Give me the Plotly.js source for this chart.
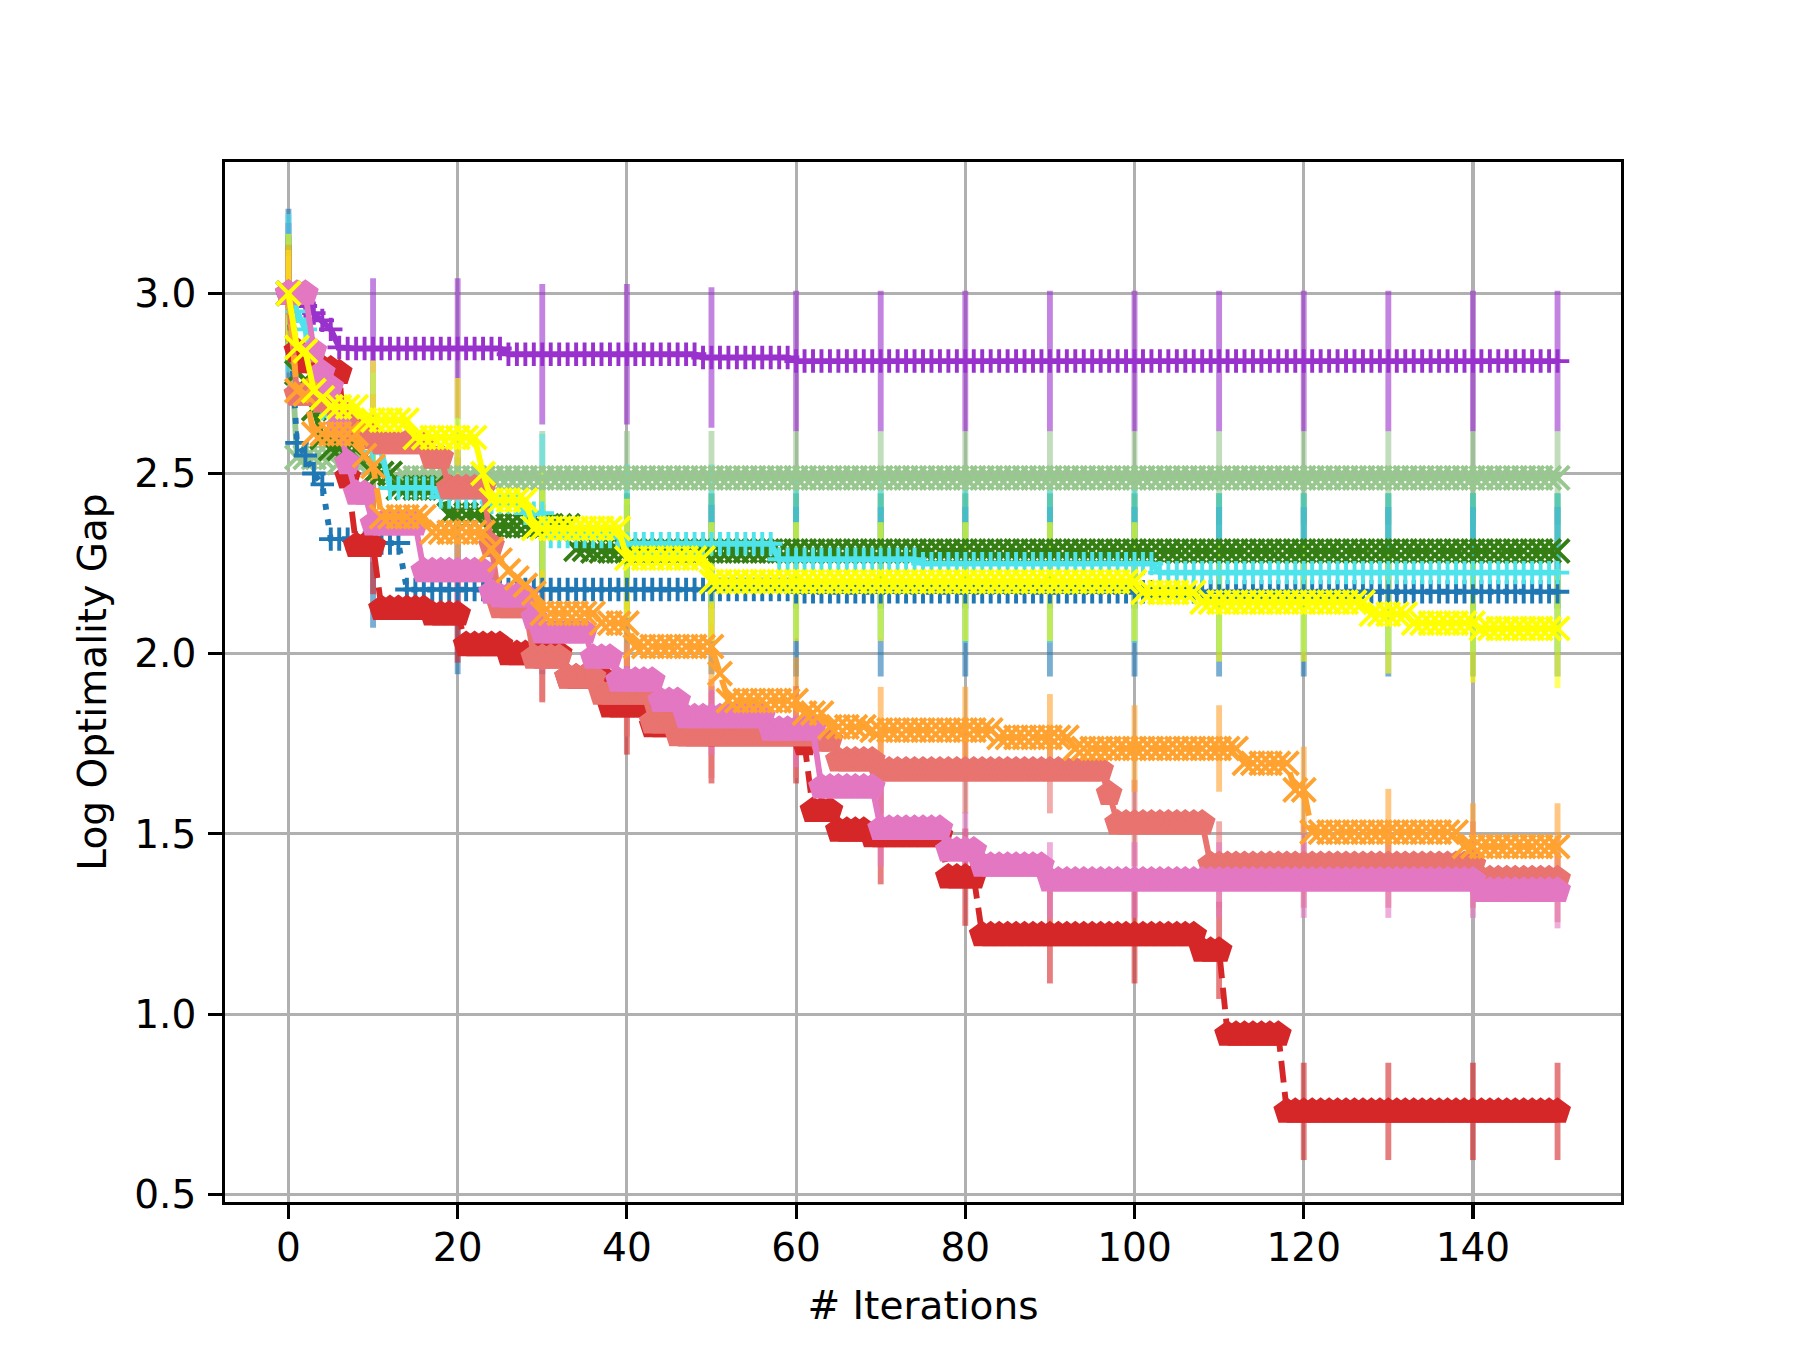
<!DOCTYPE html>
<html><head><meta charset="utf-8">
<script src="https://cdn.plot.ly/plotly-3.0.1.min.js"></script>
<style>html,body{margin:0;padding:0;background:#fff}</style>
</head><body>
<div id="chart" style="width:1800px;height:1350px"></div>
<script>
// ---------------- data ----------------
const lastIteration = 150;
const errorIterations = [0,10,20,30,40,50,60,70,80,90,100,110,120,130,140,150];
const xTickValues = [0,20,40,60,80,100,120,140];
const yTickValues = [0.5,1.0,1.5,2.0,2.5,3.0];
const yTickLabels = ['0.5','1.0','1.5','2.0','2.5','3.0'];

// piecewise-constant readings: [first iteration of the level, log gap]
const purpleSteps = [[0,3.0],[1,2.975],[2,2.965],[3,2.945],[4,2.925],[5,2.90],[6,2.85],[7,2.847],[26,2.831],[49,2.822],[60,2.812]];
const lightGreenSteps = [[0,3.0],[1,2.545],[6,2.53],[10,2.5],[13,2.488]];
const darkGreenSteps = [[0,3.0],[1,2.78],[2,2.76],[3,2.68],[4,2.6],[5,2.57],[9,2.55],[10,2.5],[13,2.46],[19,2.385],[24,2.355],[34,2.29],[36,2.285]];
const blueSteps = [[0,3.0],[1,2.585],[2,2.55],[3,2.5],[4,2.47],[5,2.318],[8,2.307],[14,2.178],[60,2.172]];
const cyanSteps = [[0,3.0],[1,2.95],[2,2.9],[3,2.8],[4,2.68],[5,2.66],[8,2.63],[10,2.56],[12,2.46],[18,2.435],[24,2.42],[28,2.39],[31,2.325],[40,2.305],[58,2.262],[75,2.25],[103,2.225]];
const redSteps = [[0,3.0],[1,2.84],[2,2.81],[4,2.79],[6,2.78],[7,2.49],[8,2.30],[11,2.125],[17,2.11],[21,2.025],[26,2.0],[33,1.935],[38,1.855],[43,1.8],[47,1.775],[61,1.75],[62,1.565],[65,1.51],[69,1.495],[78,1.38],[82,1.22],[108,1.177],[111,0.944],[118,0.73]];
const salmonSteps = [[0,3.0],[1,2.72],[4,2.70],[6,2.66],[8,2.62],[10,2.6],[11,2.585],[17,2.545],[19,2.46],[24,2.3],[25,2.13],[29,1.99],[33,1.935],[37,1.89],[43,1.81],[46,1.775],[63,1.76],[65,1.705],[70,1.677],[97,1.612],[98,1.53],[109,1.415],[141,1.375]];
const pinkSteps = [[0,3.0],[3,2.84],[4,2.78],[5,2.74],[6,2.63],[7,2.53],[8,2.445],[10,2.36],[16,2.23],[24,2.17],[25,2.16],[29,2.1],[30,2.06],[36,1.99],[39,1.926],[44,1.87],[47,1.825],[57,1.79],[63,1.63],[70,1.515],[78,1.455],[82,1.413],[90,1.372],[141,1.343]];
const orangeSteps = [[0,3.0],[1,2.73],[2,2.72],[3,2.61],[9,2.55],[10,2.52],[11,2.38],[17,2.337],[24,2.29],[25,2.26],[26,2.23],[27,2.21],[28,2.19],[29,2.168],[30,2.112],[37,2.085],[41,2.02],[51,1.945],[52,1.87],[61,1.835],[64,1.797],[69,1.788],[84,1.768],[93,1.737],[113,1.696],[119,1.622],[121,1.505],[139,1.465]];
const yellowSteps = [[0,3.0],[1,2.85],[2,2.84],[3,2.73],[4,2.71],[5,2.685],[9,2.648],[15,2.60],[23,2.50],[24,2.426],[29,2.348],[40,2.265],[50,2.2],[101,2.17],[108,2.143],[128,2.11],[133,2.085],[141,2.07]];

// half-width of the error bars of each series (log units)
const purpleErr = 0.195, lightGreenErr = 0.13, darkGreenErr = 0.16, blueErr = 0.235, cyanErr = 0.22;
const redErr = 0.135, salmonErr = 0.12, pinkErr = 0.105, orangeErr = 0.12, yellowErr = 0.165;

// ---------------- styles ----------------
const PT = 281.25 / 72;           // px per point
const seriesList = [
  {steps: purpleSteps,     err: purpleErr,     color: [153,50,204],  symbol: 'cross-thin', dash: 'solid'},
  {steps: lightGreenSteps, err: lightGreenErr, color: [152,199,143], symbol: 'x-thin',     dash: 'solid'},
  {steps: darkGreenSteps,  err: darkGreenErr,  color: [52,126,20],   symbol: 'x-thin',     dash: 'dash'},
  {steps: blueSteps,       err: blueErr,       color: [31,119,180],  symbol: 'cross-thin', dash: 'dot'},
  {steps: cyanSteps,       err: cyanErr,       color: [79,227,236],  symbol: 'cross-thin', dash: 'solid'},
  {steps: redSteps,        err: redErr,        color: [214,39,40],   symbol: 'pentagon',   dash: 'dash'},
  {steps: salmonSteps,     err: salmonErr,     color: [232,115,111], symbol: 'pentagon',   dash: 'solid'},
  {steps: pinkSteps,       err: pinkErr,       color: [227,119,194], symbol: 'pentagon',   dash: 'solid'},
  {steps: orangeSteps,     err: orangeErr,     color: [255,162,47],  symbol: 'x-thin',     dash: 'dash'},
  {steps: yellowSteps,     err: yellowErr,     color: [255,255,0],   symbol: 'x-thin',     dash: 'solid'}
];
// marker sizes so that every marker spans ~6 pt like the reference
const markerSize = {'pentagon': 6 * PT, 'x-thin': 6 * PT, 'cross-thin': 6 * PT / 1.4};

function expand(steps) {
  const out = [];
  let k = 0;
  for (let i = 0; i <= lastIteration; i++) {
    while (k + 1 < steps.length && steps[k + 1][0] <= i) k++;
    out.push(steps[k][1]);
  }
  return out;
}
const iterations = [];
for (let i = 0; i <= lastIteration; i++) iterations.push(i);

const lw = 1.5 * PT;
const dashMap = {
  solid: 'solid',
  dot: (1 * lw).toFixed(1) + 'px,' + (1.65 * lw).toFixed(1) + 'px',
  dash: (3.7 * lw).toFixed(1) + 'px,' + (1.6 * lw).toFixed(1) + 'px'
};

const errTraces = [], lineTraces = [];
seriesList.forEach(s => {
  const vals = expand(s.steps);
  const rgb = s.color.join(',');
  errTraces.push({
    type: 'scatter', mode: 'markers',
    x: errorIterations,
    y: errorIterations.map(i => vals[i]),
    marker: {size: 1, opacity: 0},
    error_y: {type: 'data', array: errorIterations.map(() => s.err), symmetric: true,
              thickness: lw, width: 0, color: 'rgba(' + rgb + ',0.6)'},
    hoverinfo: 'skip', showlegend: false
  });
  lineTraces.push({
    type: 'scatter', mode: 'lines+markers',
    x: iterations, y: vals,
    line: {color: 'rgb(' + rgb + ')', width: lw, dash: dashMap[s.dash]},
    marker: {symbol: s.symbol, size: markerSize[s.symbol],
             color: 'rgb(' + rgb + ')',
             line: {color: 'rgb(' + rgb + ')', width: 1 * PT}},
    showlegend: false, hoverinfo: 'skip'
  });
});

const axisCommon = {
  showgrid: true, gridcolor: '#b0b0b0', gridwidth: 0.8 * PT,
  zeroline: false, showline: true, mirror: true,
  linecolor: '#000', linewidth: 0.8 * PT,
  ticks: 'outside', ticklen: 3.5 * PT, tickwidth: 0.8 * PT, tickcolor: '#000',
  tickfont: {family: 'DejaVu Sans', size: 10 * PT, color: '#000'}
};

const layout = {
  width: 1800, height: 1350,
  margin: {l: 225, r: 179.3, t: 162, b: 148.3, pad: 0},
  paper_bgcolor: '#ffffff', plot_bgcolor: '#ffffff',
  showlegend: false,
  font: {family: 'DejaVu Sans', size: 10 * PT, color: '#000'},
  xaxis: Object.assign({}, axisCommon, {
    range: [-7.5, 157.5], tickmode: 'array', tickvals: xTickValues,
    ticktext: xTickValues.map(String), ticklabelstandoff: -5,
    title: {text: '# Iterations', font: {family: 'DejaVu Sans', size: 10 * PT, color: '#000'}, standoff: 24}
  }),
  yaxis: Object.assign({}, axisCommon, {
    range: [0.4786, 3.3644], tickmode: 'array', tickvals: yTickValues,
    ticktext: yTickLabels, ticklabelstandoff: 4,
    title: {text: 'Log Optimality Gap', font: {family: 'DejaVu Sans', size: 10 * PT, color: '#000'}, standoff: 16}
  })
};

Plotly.newPlot('chart', errTraces.concat(lineTraces), layout, {staticPlot: true, displayModeBar: false});
</script>
</body></html>
